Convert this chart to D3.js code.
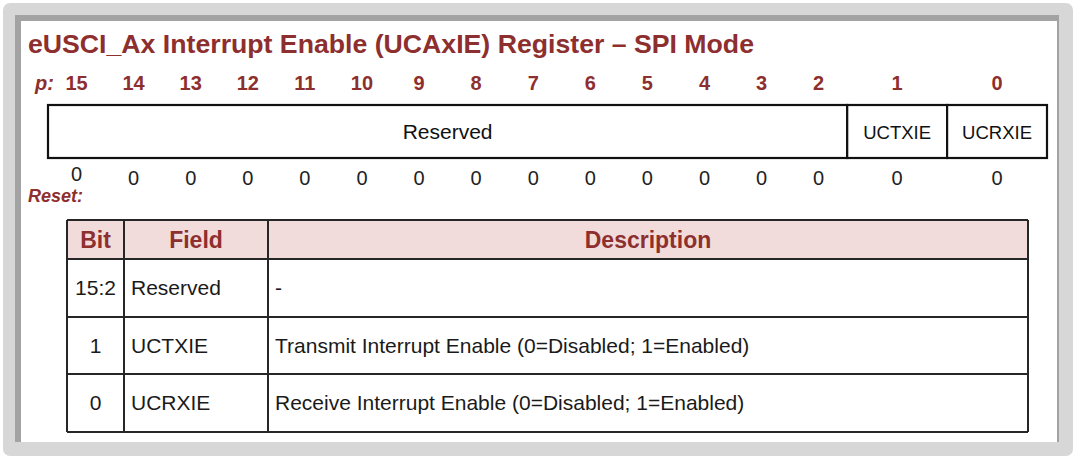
<!DOCTYPE html>
<html><head><meta charset="utf-8">
<script src="https://cdn.jsdelivr.net/npm/d3@7"></script>
<style>body{margin:0;background:#fff}svg{display:block}</style>
</head><body>
<svg id="c" width="1077" height="459"></svg>
<script>
// ---- data ----
const title = "eUSCI_Ax Interrupt Enable (UCAxIE) Register \u2013 SPI Mode";
const bitNumbers = [15,14,13,12,11,10,9,8,7,6,5,4,3,2,1,0];
const resetValues = [0,0,0,0,0,0,0,0,0,0,0,0,0,0,0,0];
const fieldNames = ["Reserved","UCTXIE","UCRXIE"];
const fieldBits = [[15,2],[1,1],[0,0]];
const headers = ["Bit","Field","Description"];
const rowBits = ["15:2","1","0"];
const rowFields = ["Reserved","UCTXIE","UCRXIE"];
const rowDescriptions = ["-","Transmit Interrupt Enable (0=Disabled; 1=Enabled)","Receive Interrupt Enable (0=Disabled; 1=Enabled)"];

const RED = "#8e2f2f";
const FONT = "Liberation Sans, Arial, sans-serif";
const svg = d3.select("#c");

// frame
svg.append("rect").attr("x",3).attr("y",3).attr("width",1070).attr("height",453).attr("rx",7).attr("fill","#d7d7d7");
svg.append("rect").attr("x",15).attr("y",15).attr("width",1044).attr("height",427).attr("fill","#a3a3a3");
svg.append("rect").attr("x",21).attr("y",21).attr("width",1036).attr("height",421).attr("fill","#ffffff");

// title
svg.append("text").attr("x",28).attr("y",53).text(title)
  .attr("font-family",FONT).attr("font-weight","bold")
  .attr("font-size",25.5).attr("fill",RED)
  .attr("textLength",726).attr("lengthAdjust","spacingAndGlyphs");

// register scale: bits 15..2 take 1 unit each, bits 1 and 0 take 1.75 units
const unitW = b => (b >= 2 ? 1 : 1.75);
const starts = {};
let acc = 0;
bitNumbers.forEach(b => { starts[b] = acc; acc += unitW(b); });
const xr = d3.scaleLinear().domain([0, acc]).range([48, 1047]);
const bitCenter = b => xr(starts[b] + unitW(b)/2);

// p: label
svg.append("text").attr("x",35).attr("y",90).text("p:")
  .attr("font-family",FONT).attr("font-weight","bold").attr("font-style","italic")
  .attr("font-size",20).attr("fill",RED);

svg.selectAll("text.bitnum").data(bitNumbers).join("text").attr("class","bitnum")
  .attr("x", d => bitCenter(d)).attr("y", 90).attr("text-anchor","middle").text(d => d)
  .attr("font-family",FONT).attr("font-weight","bold")
  .attr("font-size",20).attr("fill",RED);

// register cells
const regTop = 105, regBot = 158;
const cells = fieldNames.map((n,i) => ({name:n, x0: xr(starts[fieldBits[i][0]]), x1: xr(starts[fieldBits[i][1]] + unitW(fieldBits[i][1]))}));
svg.selectAll("rect.cell").data(cells).join("rect").attr("class","cell")
  .attr("x", d => d.x0).attr("y", regTop).attr("width", d => d.x1 - d.x0).attr("height", regBot - regTop)
  .attr("fill","#fff").attr("stroke","#111").attr("stroke-width",2.2);
svg.selectAll("text.cellname").data(cells).join("text").attr("class","cellname")
  .attr("x", d => (d.x0 + d.x1)/2).attr("y", (regTop+regBot)/2 + 7).attr("text-anchor","middle")
  .text(d => d.name)
  .attr("font-family",FONT)
  .attr("font-size", (d,i) => i === 0 ? 21 : 18.5).attr("fill","#111");

// reset values
svg.selectAll("text.reset").data(bitNumbers).join("text").attr("class","reset")
  .attr("x", d => bitCenter(d)).attr("y", (d,i) => i === 0 ? 181 : 185).attr("text-anchor","middle")
  .text((d,i) => resetValues[i])
  .attr("font-family",FONT).attr("font-size",20).attr("fill","#222");
svg.append("text").attr("x",28).attr("y",202).text("Reset:")
  .attr("font-family",FONT).attr("font-weight","bold").attr("font-style","italic")
  .attr("font-size",18).attr("fill",RED);

// table
const colEdges = [67,124,268,1028];
const rowEdges = [220,259,317,374,432];
// header
svg.append("rect").attr("x",colEdges[0]).attr("y",rowEdges[0]).attr("width",colEdges[3]-colEdges[0])
  .attr("height",rowEdges[1]-rowEdges[0]).attr("fill","#f2dcdb");
svg.selectAll("text.hdr").data(headers).join("text").attr("class","hdr")
  .attr("x",(d,i)=>(colEdges[i]+colEdges[i+1])/2).attr("y",(rowEdges[0]+rowEdges[1])/2+8)
  .attr("text-anchor","middle").text(d=>d)
  .attr("font-family",FONT).attr("font-weight","bold")
  .attr("font-size",23).attr("fill",RED);

const rows = rowBits.map((b,i)=>({bit:b, field:rowFields[i], desc:rowDescriptions[i], y0:rowEdges[i+1], y1:rowEdges[i+2]}));
const tg = svg.selectAll("g.row").data(rows).join("g").attr("class","row");
const fontAttrs = s => s.attr("font-family",FONT).attr("font-size",21).attr("fill","#1a1a1a");
tg.append("text").attr("x",(colEdges[0]+colEdges[1])/2).attr("y",d=>(d.y0+d.y1)/2+7).attr("text-anchor","middle").text(d=>d.bit).call(fontAttrs);
tg.append("text").attr("x",colEdges[1]+7).attr("y",d=>(d.y0+d.y1)/2+7).text(d=>d.field).call(fontAttrs);
tg.append("text").attr("x",colEdges[2]+7).attr("y",d=>(d.y0+d.y1)/2+7).text(d=>d.desc).call(fontAttrs);

// grid lines
const gl = svg.append("g").attr("stroke","#262626").attr("stroke-width",2);
rowEdges.forEach(y => gl.append("line").attr("x1",colEdges[0]).attr("x2",colEdges[3]).attr("y1",y).attr("y2",y));
colEdges.forEach(x => gl.append("line").attr("x1",x).attr("x2",x).attr("y1",rowEdges[0]).attr("y2",rowEdges[rowEdges.length-1]));
</script>
</body></html>
